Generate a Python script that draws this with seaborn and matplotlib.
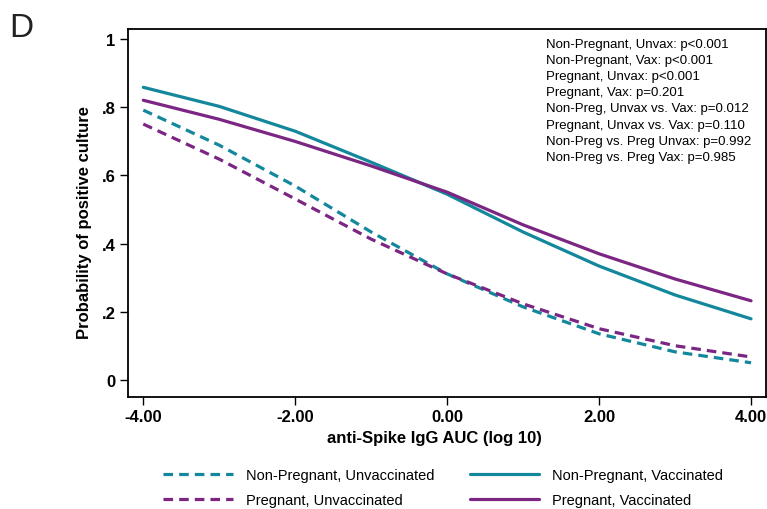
import matplotlib
matplotlib.use("Agg")
import matplotlib.pyplot as plt
import seaborn as sns
import pandas as pd
from matplotlib.lines import Line2D

sns.set_style("white")
plt.rcParams['font.family'] = ['Liberation Sans', 'DejaVu Sans']
plt.rcParams['text.color'] = 'black'
plt.rcParams['axes.labelcolor'] = 'black'
plt.rcParams['xtick.color'] = 'black'
plt.rcParams['ytick.color'] = 'black'

x_vals = [-4, -3, -2, -1, 0, 1, 2, 3, 4]
np_unvax = [0.792, 0.689, 0.569, 0.434, 0.311, 0.214, 0.135, 0.082, 0.050]
np_vax = [0.859, 0.803, 0.730, 0.639, 0.545, 0.434, 0.334, 0.249, 0.179]
p_unvax = [0.751, 0.648, 0.531, 0.413, 0.311, 0.223, 0.150, 0.100, 0.067]
p_vax = [0.821, 0.765, 0.700, 0.628, 0.551, 0.455, 0.370, 0.296, 0.232]

series_names = ["Non-Pregnant, Unvaccinated", "Non-Pregnant, Vaccinated",
                "Pregnant, Unvaccinated", "Pregnant, Vaccinated"]
series_vals = [np_unvax, np_vax, p_unvax, p_vax]
teal = "#13879b"
purple = "#7b2683"
colors = [teal, teal, purple, purple]
styles = [(0, (3.0, 1.9)), "-", (0, (3.0, 1.9)), "-"]

x_ticks = [-4, -2, 0, 2, 4]
x_ticklabels = ["-4.00", "-2.00", "0.00", "2.00", "4.00"]
y_ticks = [0, 0.2, 0.4, 0.6, 0.8, 1.0]
y_ticklabels = ["0", ".2", ".4", ".6", ".8", "1"]

annot_lines = [
    "Non-Pregnant, Unvax: p<0.001",
    "Non-Pregnant, Vax: p<0.001",
    "Pregnant, Unvax: p<0.001",
    "Pregnant, Vax: p=0.201",
    "Non-Preg, Unvax vs. Vax: p=0.012",
    "Pregnant, Unvax vs. Vax: p=0.110",
    "Non-Preg vs. Preg Unvax: p=0.992",
    "Non-Preg vs. Preg Vax: p=0.985",
]

fig = plt.figure(figsize=(7.67, 5.10), dpi=100)
ax = fig.add_axes([0.167, 0.22, 0.832, 0.721])

for name, vals, c, ls in zip(series_names, series_vals, colors, styles):
    df = pd.DataFrame({"x": x_vals, "y": vals})
    sns.lineplot(data=df, x="x", y="y", ax=ax, color=c, linewidth=2.3,
                 linestyle=ls, estimator=None, sort=True)

ax.set_xlim(-4.2, 4.2)
ax.set_ylim(-0.05, 1.03)
ax.set_xticks(x_ticks)
ax.set_xticklabels(x_ticklabels, fontsize=12, fontweight="bold", color="black")
ax.set_yticks(y_ticks)
ax.set_yticklabels(y_ticklabels, fontsize=12, fontweight="bold", color="black")
ax.tick_params(axis="both", direction="out", length=6, width=1, color="black",
               bottom=True, left=True, pad=3)
for s in ax.spines.values():
    s.set_color("black")
    s.set_linewidth(1.3)
ax.set_xlabel("anti-Spike IgG AUC (log 10)", fontsize=12, fontweight="bold", color="black")
ax.set_ylabel("Probability of positive culture", fontsize=12, fontweight="bold", color="black")
ax.xaxis.set_label_coords(0.48, -0.090)
ax.yaxis.set_label_coords(-0.056, 0.478)

ax.text(0.655, 0.975, "\n".join(annot_lines), transform=ax.transAxes,
        fontsize=9.5, va="top", ha="left", linespacing=1.45, color="black")

fig.text(0.012, 0.945, "D", fontsize=24, va="center", ha="left", color="#222222")

handles = [Line2D([0], [0], color=c, lw=2.3, linestyle=ls) for c, ls in zip(colors, styles)]
order = [0, 2, 1, 3]
leg = fig.legend([handles[i] for i in order], [series_names[i] for i in order],
                 loc="center", bbox_to_anchor=(0.578, 0.042), ncol=2, frameon=False,
                 fontsize=10.5, handlelength=4.75, columnspacing=2.47, handletextpad=0.89,
                 labelspacing=0.75, labelcolor="black")

fig.savefig("out.png", dpi=100)
